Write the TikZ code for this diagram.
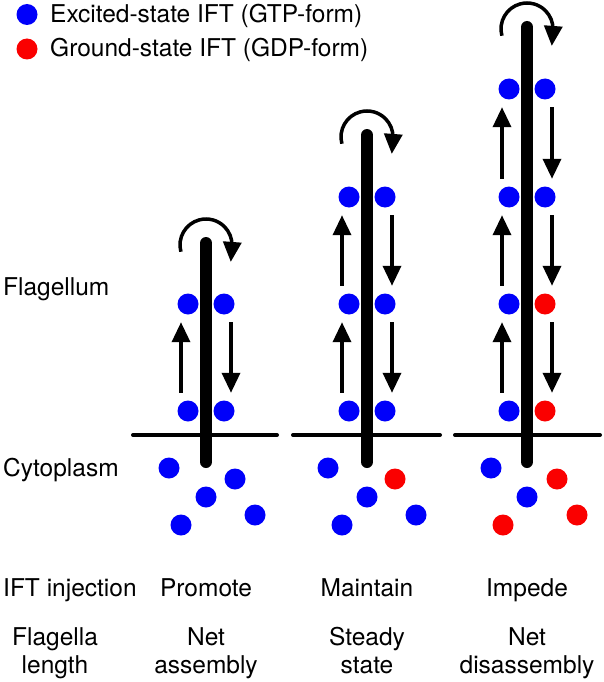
\documentclass[tikz,border=0pt]{standalone}
\usepackage{fontspec}
\setmainfont{TeX Gyre Heros}
\usetikzlibrary{arrows.meta}
\definecolor{ftblue}{RGB}{0,0,250}
\definecolor{ftred}{RGB}{250,0,0}
\begin{document}
\begin{tikzpicture}[x=1pt,y=-1pt,
  lbl/.style={inner sep=0pt, font=\fontsize{24.5}{28}\selectfont},
  dotb/.style={circle, fill=ftblue, minimum size=21pt, inner sep=0pt},
  dotr/.style={circle, fill=ftred, minimum size=21pt, inner sep=0pt},
  rod/.style={line width=12pt, line cap=round},
  memb/.style={line width=4pt, line cap=round},
  flow/.style={line width=3.5pt, -{Triangle[length=20pt,width=18pt]}},
  upflow/.style={flow, shorten <=7.5pt, shorten >=7.5pt},
]
\useasboundingbox (0,0) rectangle (604,682);

% ---- legend
\node[dotb] (lgB) at (27,14.5) {};
\node[dotr] (lgR) at (27,49) {};
\node[lbl, anchor=base west] (lgBt) at (50,23) {Excited-state IFT (GTP-form)};
\node[lbl, anchor=base west] (lgRt) at (50,57) {Ground-state IFT (GDP-form)};

% ---- side labels
\node[lbl, anchor=base west] (flag) at (3,295) {Flagellum};
\node[lbl, anchor=base west] (cyto) at (3,476) {Cytoplasm};
\node[lbl, anchor=base west] (inj) at (3,596) {IFT injection};
\node[lbl, anchor=base] (fl1) at (55,645) {Flagella};
\node[lbl, anchor=base] (fl2) at (55,673) {length};

% ---- membranes
\coordinate (m1a) at (133,435); \coordinate (m1b) at (277,435);
\coordinate (m2a) at (293,435); \coordinate (m2b) at (440,435);
\coordinate (m3a) at (455,435); \coordinate (m3b) at (600,435);
\draw[memb] (m1a) -- (m1b);
\draw[memb] (m2a) -- (m2b);
\draw[memb] (m3a) -- (m3b);

% ---- rods
\coordinate (t1) at (206,243); \coordinate (b1) at (206,462);
\coordinate (t2) at (367,135); \coordinate (b2) at (367,462);
\coordinate (t3) at (527,27);  \coordinate (b3) at (527,462);
\draw[rod] (t1) -- (b1);
\draw[rod] (t2) -- (b2);
\draw[rod] (t3) -- (b3);

% ---- turnaround arrows
\coordinate (c1) at (206,245);
\coordinate (c2) at (367,137);
\coordinate (c3) at (527,29);
\draw[flow] ([shift={(165:26)}]c1) arc[start angle=165, end angle=362, radius=26] -- ++(-1.2,16);
\draw[flow] ([shift={(165:26)}]c2) arc[start angle=165, end angle=362, radius=26] -- ++(-1.2,16);
\draw[flow] ([shift={(165:26)}]c3) arc[start angle=165, end angle=362, radius=26] -- ++(-1.2,16);

% ---- panel 1 (Promote)
\node[dotb] (p1L1) at (188,304) {};
\node[dotb] (p1R1) at (224,304) {};
\node[dotb] (p1L2) at (188,411) {};
\node[dotb] (p1R2) at (224,411) {};
\draw[upflow] ([xshift=-7pt]p1L2.north) -- ([xshift=-7pt]p1L1.south);
\draw[upflow] ([xshift=7pt]p1R1.south) -- ([xshift=7pt]p1R2.north);

% ---- panel 2 (Maintain)
\node[dotb] (p2L0) at (349,197) {};
\node[dotb] (p2R0) at (385,197) {};
\node[dotb] (p2L1) at (349,304) {};
\node[dotb] (p2R1) at (385,304) {};
\node[dotb] (p2L2) at (349,411) {};
\node[dotb] (p2R2) at (385,411) {};
\draw[upflow] ([xshift=-7pt]p2L2.north) -- ([xshift=-7pt]p2L1.south);
\draw[upflow] ([xshift=-7pt]p2L1.north) -- ([xshift=-7pt]p2L0.south);
\draw[upflow] ([xshift=7pt]p2R0.south) -- ([xshift=7pt]p2R1.north);
\draw[upflow] ([xshift=7pt]p2R1.south) -- ([xshift=7pt]p2R2.north);

% ---- panel 3 (Impede)
\node[dotb] (p3Lm) at (509,89) {};
\node[dotb] (p3Rm) at (545,89) {};
\node[dotb] (p3L0) at (509,197) {};
\node[dotb] (p3R0) at (545,197) {};
\node[dotb] (p3L1) at (509,304) {};
\node[dotr] (p3R1) at (545,304) {};
\node[dotb] (p3L2) at (509,411) {};
\node[dotr] (p3R2) at (545,411) {};
\draw[upflow] ([xshift=-7pt]p3L2.north) -- ([xshift=-7pt]p3L1.south);
\draw[upflow] ([xshift=-7pt]p3L1.north) -- ([xshift=-7pt]p3L0.south);
\draw[upflow] ([xshift=-7pt]p3L0.north) -- ([xshift=-7pt]p3Lm.south);
\draw[upflow] ([xshift=7pt]p3Rm.south) -- ([xshift=7pt]p3R0.north);
\draw[upflow] ([xshift=7pt]p3R0.south) -- ([xshift=7pt]p3R1.north);
\draw[upflow] ([xshift=7pt]p3R1.south) -- ([xshift=7pt]p3R2.north);

% ---- cytoplasm pools
\node[dotb] (q1a) at (169,468) {};
\node[dotb] (q1b) at (235,479) {};
\node[dotb] (q1c) at (206,497) {};
\node[dotb] (q1d) at (181,525) {};
\node[dotb] (q1e) at (255,515) {};

\node[dotb] (q2a) at (328,468) {};
\node[dotr] (q2b) at (395,479) {};
\node[dotb] (q2c) at (367,497) {};
\node[dotb] (q2d) at (342,525) {};
\node[dotb] (q2e) at (416,515) {};

\node[dotb] (q3a) at (491,468) {};
\node[dotr] (q3b) at (557,479) {};
\node[dotb] (q3c) at (527,497) {};
\node[dotr] (q3d) at (503,525) {};
\node[dotr] (q3e) at (577,515) {};

% ---- bottom labels
\node[lbl, anchor=base] (inj1) at (206,596) {Promote};
\node[lbl, anchor=base] (inj2) at (367,596) {Maintain};
\node[lbl, anchor=base] (inj3) at (527,596) {Impede};
\node[lbl, anchor=base] (len1a) at (206,645) {Net};
\node[lbl, anchor=base] (len1b) at (206,673) {assembly};
\node[lbl, anchor=base] (len2a) at (367,645) {Steady};
\node[lbl, anchor=base] (len2b) at (367,673) {state};
\node[lbl, anchor=base] (len3a) at (527,645) {Net};
\node[lbl, anchor=base] (len3b) at (527,673) {disassembly};
\end{tikzpicture}
\end{document}
